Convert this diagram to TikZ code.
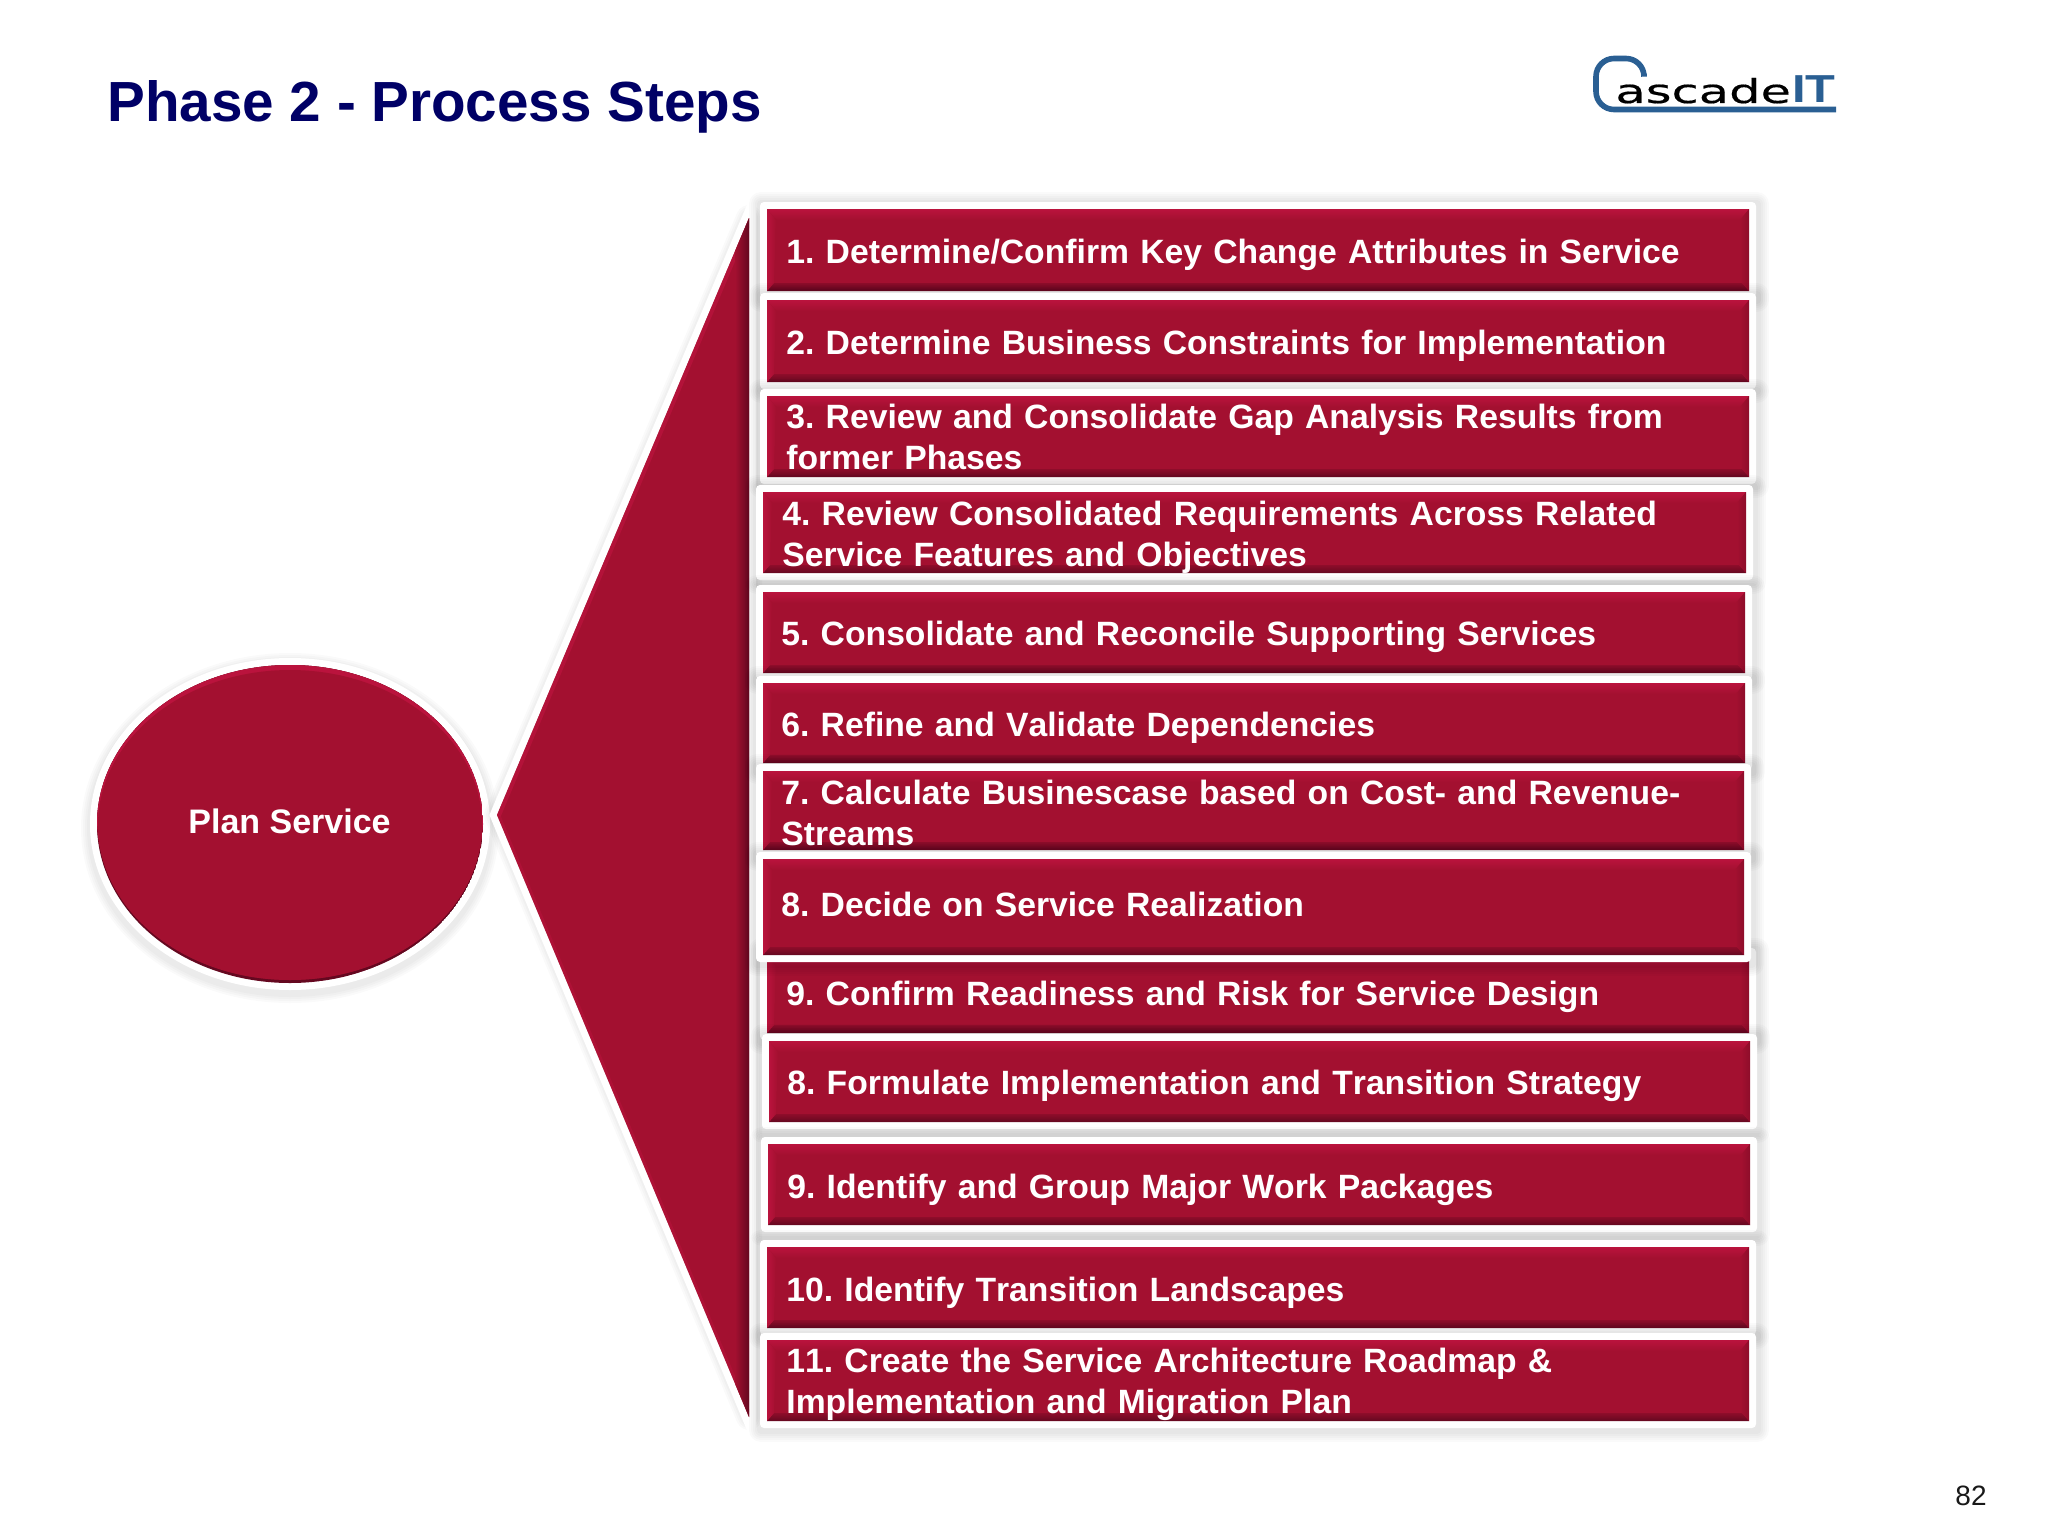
\documentclass[tikz,border=0pt]{standalone}
\usepackage{fontspec}
\usepackage{graphicx}
\setmainfont{Liberation Sans}[Kerning=Off]
\newfontfamily\logofont{DejaVu Sans}[FakeStretch=1.5,FakeBold=0.5]
\usetikzlibrary{calc}
\definecolor{mainred}{HTML}{A31030}
\definecolor{lightred}{HTML}{BA133D}
\definecolor{darkred}{HTML}{650820}
\definecolor{midred}{HTML}{8E0D2A}
\definecolor{titleblue}{HTML}{000066}
\definecolor{logoblue}{HTML}{2A5F93}
\tikzset{
  steptext/.style={text=white,font=\fontsize{16.85}{20.5}\selectfont\bfseries\frenchspacing,anchor=base west,inner sep=0pt,align=left,text width=520pt},
  softline/.style={draw=black,draw opacity=.018,line join=round}
}
% name, left, top, right, bottom
\newcommand{\redbox}[5]{%
  \foreach \w in {24,20,16,12,8}{
    \path[softline,line width=\w*0.5pt] (#2-6,#3-5) rectangle (#4+8,#5+9);
  }
  \path[fill=white,rounded corners=2pt] (#2-7,#3-7) rectangle (#4+7,#5+7);
  \path[fill=mainred] (#2,#3) rectangle (#4,#5);
  \shade[top color=lightred,bottom color=mainred] (#2,#3) -- (#4,#3) -- (#4-9,#3+11) -- (#2+9,#3+11) -- cycle;
  \shade[top color=midred,bottom color=darkred] (#2,#5) -- (#4,#5) -- (#4-7,#5-8) -- (#2+7,#5-8) -- cycle;
  \shade[left color=lightred,right color=mainred] (#2,#3) -- (#2+9,#3+11) -- (#2+7,#5-8) -- (#2,#5) -- cycle;
  \shade[left color=mainred,right color=midred] (#4,#3) -- (#4-9,#3+11) -- (#4-7,#5-8) -- (#4,#5) -- cycle;
}
\begin{document}
\begin{tikzpicture}[x=0.5pt,y=-0.5pt]
\useasboundingbox (0,0) rectangle (2048,1536);
\fill[white] (0,0) rectangle (2048,1536);

% title and page number
\node[name=title,anchor=base west,inner sep=0pt,text=titleblue,font=\fontsize{28.3}{32}\selectfont\bfseries] at (107,121.5) {Phase 2 - Process Steps};
\node[name=pagenum,anchor=base east,inner sep=0pt,text=black!90,font=\fontsize{14}{16}\selectfont] at (1987,1505) {82};

% logo
\draw[logoblue,line width=2.8pt,rounded corners=9pt] (1644,74) -- (1644,58.5) -- (1596,58.5) -- (1596,109.5) -- (1836,109.5);
\node[name=logotext,anchor=base west,inner sep=0pt,text=black,font=\logofont\fontsize{16.5}{18}\selectfont] at (1615,103) {ascade};
\node[name=logoit,anchor=base west,inner sep=0pt,text=logoblue,font=\bfseries\fontsize{19.5}{24}\selectfont] at (1792,103) {\scalebox{1.25}[1]{IT}};

% ellipse
\foreach \w in {24,20,16,12}{
  \path[softline,line width=\w*0.5pt] (290,828) ellipse [x radius=197,y radius=163];
}
\path[fill=white] (290,824) ellipse [x radius=200,y radius=166];
\begin{scope}
  \clip (290,824) ellipse [x radius=193,y radius=159];
  \fill[darkred] (290,824) ellipse [x radius=193,y radius=159];
  \fill[midred] (290,821) ellipse [x radius=193,y radius=159];
  \fill[lightred] (290,818) ellipse [x radius=193,y radius=157];
  \fill[mainred] (290,825) ellipse [x radius=192,y radius=155];
\end{scope}
\node[name=plan,anchor=base,inner sep=0pt,text=white,font=\fontsize{17}{20}\selectfont\bfseries] at (289.5,833) {Plan Service};

% wedge
\coordinate (wa) at (497,815);
\coordinate (wt) at (749,218);
\coordinate (wb) at (749,1417);
\foreach \w in {26,22,18}{
  \path[softline,line width=\w*0.5pt] (wa) -- (wt) -- (wb) -- cycle;
}
\path[draw=white,fill=white,line width=7pt,line join=miter] (wa) -- (wt) -- (wb) -- cycle;
\begin{scope}
  \clip (wa) -- (wt) -- (wb) -- cycle;
  \fill[mainred] (490,200) rectangle (760,1430);
  \draw[lightred,line width=4pt,opacity=.7] (wa) -- (wt);
  \draw[lightred,line width=3pt,opacity=.5] (wa) -- (wb);
  \shade[left color=mainred,right color=darkred] (735,200) rectangle (749,1430);
\end{scope}

% step boxes, back to front
\redbox{b1}{767}{209}{1749}{291}
\redbox{b2}{767}{300}{1749}{382}
\redbox{b3}{767}{396}{1749}{477}
\redbox{b4}{763}{492}{1746}{573}
\redbox{b5}{763}{592}{1745}{673}
\redbox{b6}{763}{683}{1745}{763}
\redbox{b7}{763}{771}{1744}{850}
\redbox{b9}{767}{955}{1749}{1033}
\redbox{b8}{763}{859}{1744}{955}
\redbox{b10}{769}{1041}{1750}{1122}
\redbox{b11}{768}{1144}{1750}{1225}
\redbox{b12}{767}{1247}{1749}{1328}
\redbox{b13}{767}{1340}{1749}{1421}

\node[steptext,name=t1] at (786,263) {1. Determine/Confirm Key Change Attributes in Service};
\node[steptext,name=t2] at (786,354) {2. Determine Business Constraints for Implementation};
\node[steptext,name=t3] at (786,428) {3. Review and Consolidate Gap Analysis Results from\\former Phases};
\node[steptext,name=t4] at (782,525) {4. Review Consolidated Requirements Across Related\\Service Features and Objectives};
\node[steptext,name=t5] at (781,645) {5. Consolidate and Reconcile Supporting Services};
\node[steptext,name=t6] at (781,736) {6. Refine and Validate Dependencies};
\node[steptext,name=t7] at (781,804) {7. Calculate Businescase based on Cost- and Revenue-\\Streams};
\node[steptext,name=t8] at (781,916) {8. Decide on Service Realization};
\node[steptext,name=t9] at (786,1005) {9. Confirm Readiness and Risk for Service Design};
\node[steptext,name=t10] at (787,1094) {8. Formulate Implementation and Transition Strategy};
\node[steptext,name=t11] at (787,1198) {9. Identify and Group Major Work Packages};
\node[steptext,name=t12] at (786,1301) {10. Identify Transition Landscapes};
\node[steptext,name=t13] at (786,1372) {11. Create the Service Architecture Roadmap \&\\Implementation and Migration Plan};
\end{tikzpicture}
\end{document}
